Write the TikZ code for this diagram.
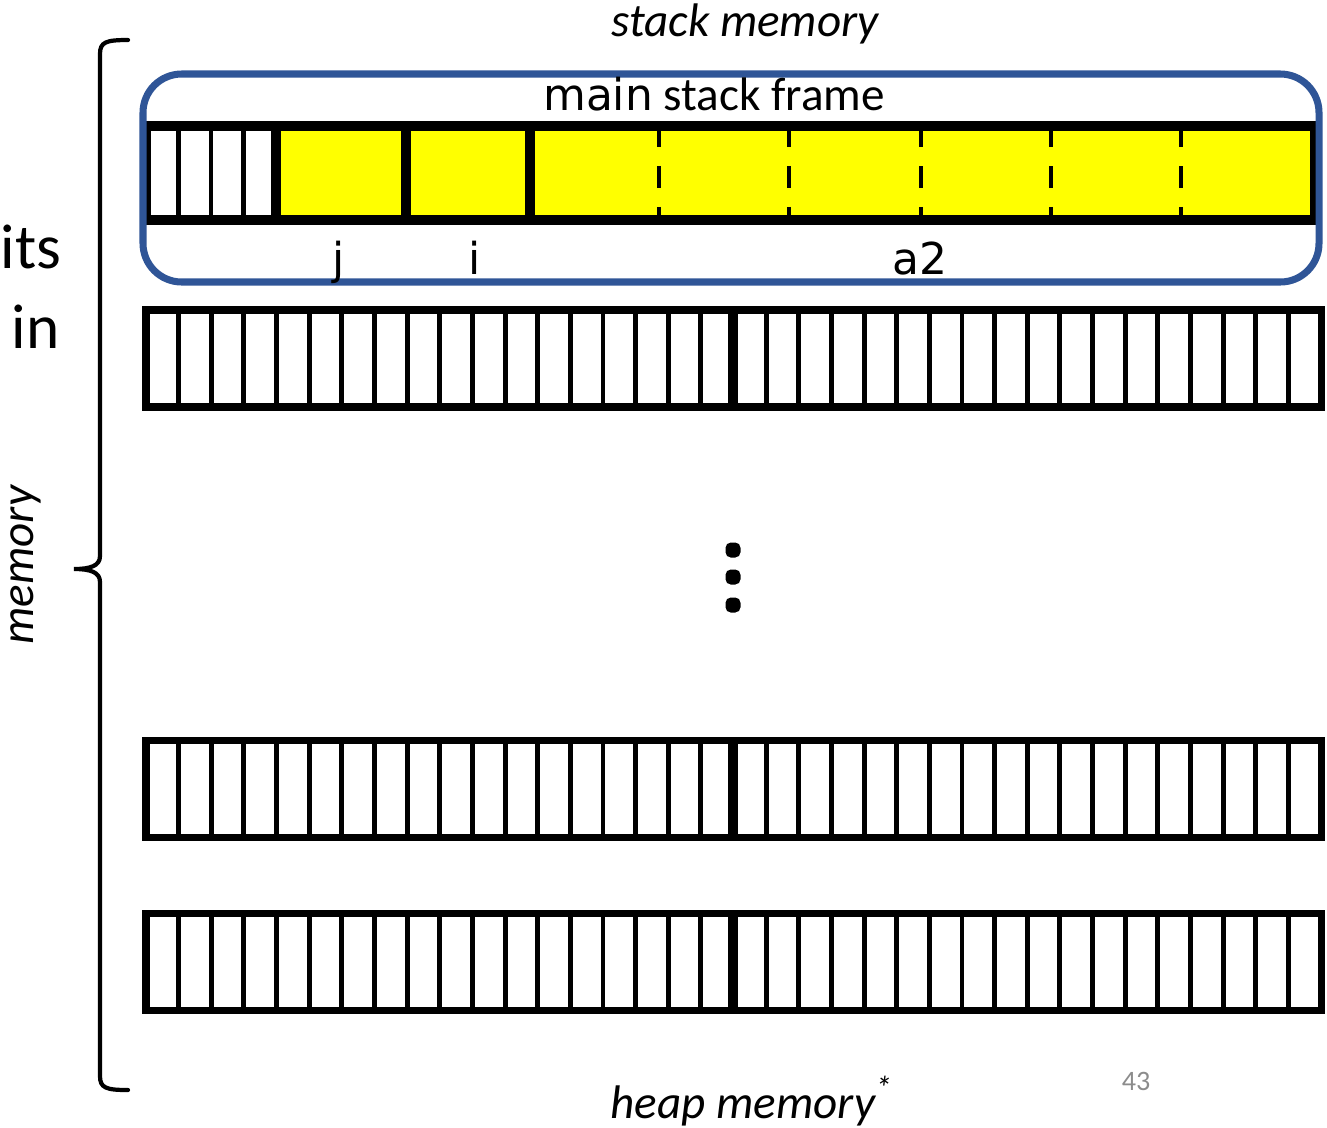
\documentclass[tikz,border=0pt]{standalone}
\usepackage{fontspec}
\setmainfont{Carlito}
\newfontfamily\codefont{DejaVu Sans}
\definecolor{frameblue}{RGB}{47,85,151}
\definecolor{varyellow}{RGB}{255,255,0}
\definecolor{pagegray}{RGB}{140,140,140}

\begin{document}
\begin{tikzpicture}[
        x=0.1mm, y=-0.1mm,
        cellline/.style={line width=1.4pt},
        rowbox/.style={draw, line width=2pt},
        barbox/.style={draw, line width=2.8pt},
        varline/.style={line width=2.8pt},
        slotline/.style={line width=1.4pt, dash pattern=on 6pt off 5.5pt},
        framebox/.style={draw=frameblue, line width=2pt, rounded corners=11pt},
        bigtext/.style={font=\fontsize{13.4}{16}\selectfont},
        codetext/.style={font=\fontsize{12.5}{15}\selectfont\codefont},
        sidetext/.style={font=\fontsize{18}{21}\selectfont},
        brace/.style={line width=1.2pt, line cap=round}
    ]
    \useasboundingbox (0,0) rectangle (1327,1127);

    % Left-over words at the edge
    \node[sidetext, anchor=base east, inner sep=0pt] (its) at (62,268) {its};
    \node[sidetext, anchor=base east, inner sep=0pt] (in) at (60,348) {in};
    \node[bigtext, rotate=90, inner sep=0pt, font=\fontsize{13.4}{16}\selectfont\itshape] (mem) at (26,565) {memory};

    % Brace around the whole memory
    \draw[brace] (128,40) .. controls (106,40) and (100,42) .. (100,54)
        -- (100,556) .. controls (100,566) and (90,569) .. (74,569)
        .. controls (90,569) and (100,572) .. (100,582)
        -- (100,1076) .. controls (100,1088) and (106,1090) .. (128,1090);

    % Top and bottom labels
    \node[bigtext, anchor=base, font=\fontsize{13.4}{16}\selectfont\itshape] (stacklbl) at (745,36) {stack memory};
    \node[bigtext, anchor=base, font=\fontsize{13.4}{16}\selectfont\itshape] (heaplbl) at (752,1118) {heap memory\textsuperscript{*}};
    \node[font=\fontsize{8}{10}\selectfont, text=pagegray] (pageno) at (1136,1081) {43};

    % Stack frame row: free bytes, then j, i and a2
    \fill[varyellow] (276,126) rectangle (1315,220);
    \foreach \x in {178.5,211,243.5}
        \draw[cellline] (\x,126) -- (\x,220);
    \foreach \x in {276,406,530}
        \draw[varline] (\x,126) -- (\x,220);
    \foreach \x in {659,789,921,1051,1181}
        \draw[slotline] (\x,126) -- (\x,220);
    \draw[barbox] (146,126) rectangle (1315,220);

    % main stack frame
    \draw[framebox] (143,74) rectangle (1319,282);
    \node[bigtext, anchor=base] (framelbl) at (714,110) {{\codefont\fontsize{12.5}{15}\selectfont main} stack frame};
    \node[codetext, anchor=base] (jlbl) at (339,274) {j};
    \node[codetext, anchor=base] (ilbl) at (475,274) {i};
    \node[codetext, anchor=base] (a2lbl) at (920,274) {a2};

    % Heap rows, 36 bytes each
    \foreach \top in {310,740,913} {
        \foreach \k in {1,...,35}
            \draw[cellline] ({146+\k*32.64},\top) -- ++(0,97);
        \draw[varline] (733,\top) -- ++(0,97);
        \draw[rowbox] (146,\top) rectangle ++(1175,97);
    }

    % Gap between rows
    \foreach \y/\name in {550/dota, 577/dotb, 605/dotc}
        \node[rectangle, rounded corners=1.5pt, fill=black, minimum size=15*0.1mm, inner sep=0pt] (\name) at (733,\y) {};

\end{tikzpicture}
\end{document}
